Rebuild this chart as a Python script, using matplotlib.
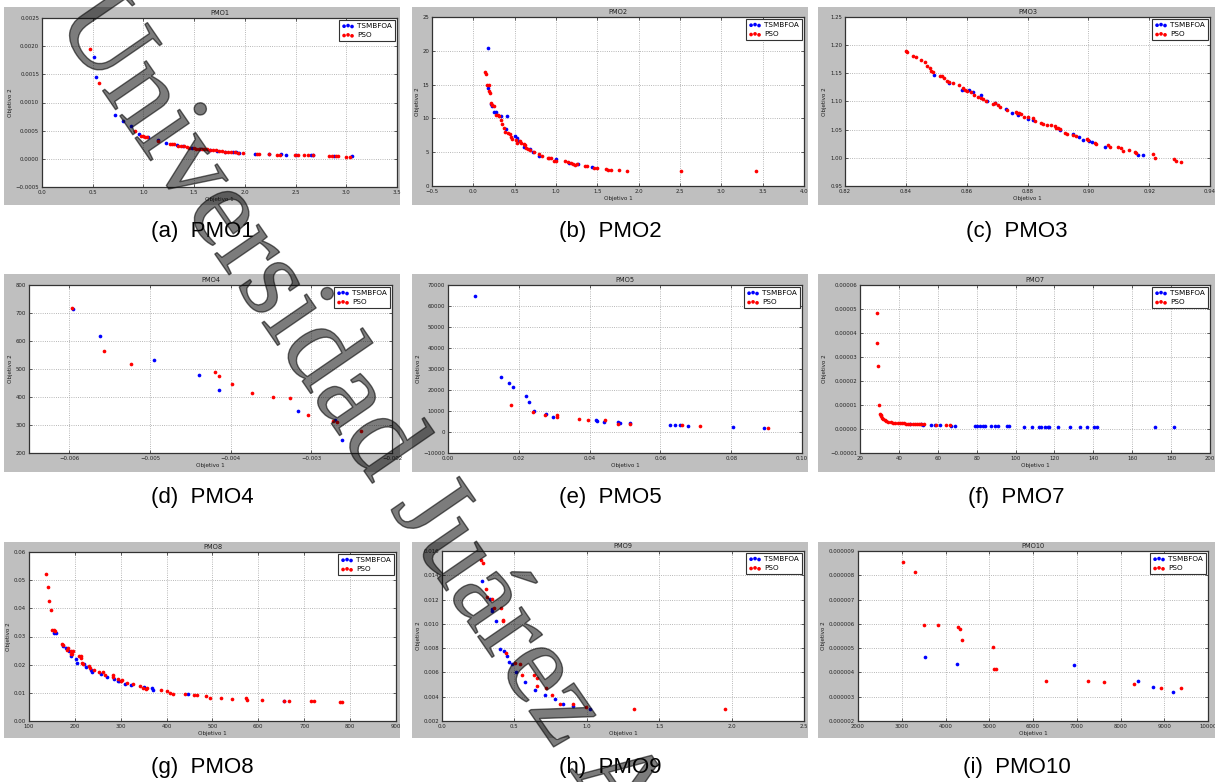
import matplotlib
matplotlib.use('Agg')
import matplotlib.pyplot as plt
import matplotlib.patheffects as pe
from matplotlib.patches import Rectangle
from matplotlib.ticker import FuncFormatter
import numpy as np

# ---- PMO1 ----
pmo1_ts_x = [0.515, 0.531, 0.715, 0.80, 0.876, 0.958, 1.05, 1.14, 1.22, 1.33, 1.39, 1.48, 1.56, 1.66,
             1.73, 1.80, 1.88, 1.91, 1.94, 2.10, 2.24, 2.36, 2.41, 2.50, 2.65, 2.67, 2.88, 3.06]
pmo1_ts_y = [0.00181, 0.00146, 0.00078, 0.00068, 0.00059, 0.00044, 0.00038, 0.00033, 0.00028, 0.00024,
             0.00022, 0.00019, 0.00017, 0.00015, 0.00014, 0.00013, 0.00012, 0.00012, 0.00011, 0.00009,
             0.00008, 0.00008, 0.00007, 0.00007, 0.00006, 0.00006, 0.00005, 0.00005]
pmo1_pso_x = [0.469, 0.564, 0.912, 0.98, 1.00, 1.02, 1.04, 1.14, 1.26, 1.28, 1.30, 1.34, 1.37, 1.40,
              1.43, 1.45, 1.50, 1.52, 1.55, 1.58, 1.60, 1.63, 1.66, 1.69, 1.72, 1.75, 1.77, 1.80, 1.83,
              1.86, 1.90, 1.93, 1.98, 2.12, 2.14, 2.24, 2.32, 2.35, 2.49, 2.52, 2.58, 2.62, 2.67, 2.83,
              2.86, 2.90, 2.92, 3.00, 3.04]
pmo1_pso_y = [0.00195, 0.00134, 0.00050, 0.00041, 0.00040, 0.00039, 0.00038, 0.00031, 0.00026, 0.00026,
              0.00026, 0.00023, 0.00022, 0.00022, 0.00021, 0.00020, 0.00019, 0.00018, 0.00018, 0.00018,
              0.00017, 0.00017, 0.00016, 0.00016, 0.00015, 0.00014, 0.00014, 0.00013, 0.00013, 0.00012,
              0.00012, 0.00011, 0.00011, 0.00009, 0.00009, 0.00008, 0.00007, 0.00007, 0.00007, 0.00007,
              0.00006, 0.00006, 0.00006, 0.00005, 0.00005, 0.00005, 0.00005, 0.00004, 0.00004]

# ---- PMO2 ----
pmo2_ts_x = [0.174, 0.18, 0.21, 0.23, 0.25, 0.27, 0.34, 0.41, 0.40, 0.50, 0.53, 0.55, 0.61, 0.68, 0.72,
             0.80, 1.00, 1.16, 1.27, 1.43]
pmo2_ts_y = [20.4, 14.5, 12.2, 11.8, 11.0, 10.9, 10.4, 10.3, 8.5, 7.4, 7.1, 6.7, 5.7, 5.4, 5.1, 4.4,
             4.0, 3.4, 3.3, 2.8]
pmo2_pso_x = [0.145, 0.157, 0.17, 0.186, 0.19, 0.20, 0.21, 0.22, 0.25, 0.27, 0.30, 0.31, 0.33, 0.35,
              0.37, 0.38, 0.42, 0.44, 0.46, 0.47, 0.52, 0.53, 0.56, 0.58, 0.61, 0.63, 0.64, 0.66, 0.69,
              0.73, 0.80, 0.83, 0.90, 0.92, 0.94, 0.98, 1.00, 1.11, 1.15, 1.18, 1.21, 1.23, 1.26, 1.35,
              1.37, 1.46, 1.50, 1.60, 1.63, 1.66, 1.76, 1.86, 2.51, 3.42]
pmo2_pso_y = [16.8, 16.6, 15.0, 15.0, 14.0, 13.7, 12.3, 12.0, 11.8, 10.5, 10.5, 10.3, 9.7, 9.1, 8.6,
              8.0, 7.8, 7.7, 7.3, 6.9, 6.8, 6.4, 6.6, 6.3, 6.2, 6.0, 5.6, 5.4, 5.3, 5.0, 4.7, 4.4, 4.2,
              4.2, 4.1, 3.7, 3.7, 3.7, 3.5, 3.4, 3.3, 3.1, 3.2, 3.0, 2.9, 2.7, 2.6, 2.5, 2.4, 2.4, 2.4,
              2.2, 2.2, 2.2]

# ---- PMO3 ----
pmo3_ts_x = [0.8493, 0.8541, 0.8584, 0.8609, 0.8620, 0.8647, 0.8668, 0.8694, 0.8729, 0.8749, 0.8768,
             0.8800, 0.8817, 0.8907, 0.8948, 0.8968, 0.8984, 0.9001, 0.9011, 0.9056, 0.9163, 0.9181]
pmo3_ts_y = [1.147, 1.132, 1.121, 1.120, 1.117, 1.112, 1.101, 1.098, 1.086, 1.080, 1.076, 1.069, 1.067,
             1.049, 1.042, 1.037, 1.031, 1.029, 1.028, 1.019, 1.005, 1.005]
pmo3_pso_x = [0.8402, 0.8403, 0.8425, 0.8433, 0.8449, 0.8463, 0.8471, 0.8480, 0.8483, 0.8488, 0.8512,
              0.8520, 0.8527, 0.8534, 0.8543, 0.8554, 0.8574, 0.8589, 0.8595, 0.8600, 0.8614, 0.8624,
              0.8638, 0.8646, 0.8654, 0.8663, 0.8685, 0.8694, 0.8704, 0.8709, 0.8731, 0.8761, 0.8766,
              0.8773, 0.8777, 0.8790, 0.8803, 0.8819, 0.8826, 0.8844, 0.8850, 0.8863, 0.8876, 0.8890,
              0.8894, 0.8901, 0.8907, 0.8923, 0.8929, 0.8951, 0.8958, 0.8995, 0.9000, 0.9022, 0.9025,
              0.9064, 0.9071, 0.9099, 0.9106, 0.9115, 0.9134, 0.9153, 0.9157, 0.9214, 0.9220, 0.9283,
              0.9287, 0.9304]
pmo3_pso_y = [1.190, 1.188, 1.181, 1.179, 1.174, 1.170, 1.163, 1.159, 1.155, 1.153, 1.146, 1.145, 1.141,
              1.136, 1.134, 1.132, 1.129, 1.124, 1.121, 1.118, 1.116, 1.111, 1.108, 1.107, 1.104, 1.101,
              1.096, 1.097, 1.094, 1.091, 1.085, 1.081, 1.079, 1.080, 1.078, 1.073, 1.072, 1.070, 1.066,
              1.061, 1.060, 1.058, 1.058, 1.057, 1.053, 1.053, 1.051, 1.044, 1.042, 1.040, 1.038, 1.033,
              1.032, 1.027, 1.025, 1.022, 1.020, 1.019, 1.018, 1.013, 1.014, 1.011, 1.009, 1.007, 0.999,
              0.998, 0.995, 0.992]

# ---- PMO4 ----
pmo4_ts_x = [-0.00595, -0.00562, -0.00495, -0.00439, -0.00414, -0.00316, -0.00271, -0.00262]
pmo4_ts_y = [714, 617, 533, 480, 424, 349, 317, 247]
pmo4_pso_x = [-0.00597, -0.00557, -0.00523, -0.00419, -0.00414, -0.00398, -0.00373, -0.00348, -0.00327,
              -0.00304, -0.00273, -0.00268, -0.00238]
pmo4_pso_y = [718, 564, 517, 488, 476, 447, 415, 400, 397, 336, 314, 309, 277]

# ---- PMO5 ----
pmo5_ts_x = [0.0075, 0.0151, 0.0172, 0.0183, 0.0219, 0.0228, 0.0243, 0.0277, 0.0297, 0.0418, 0.0420,
             0.0441, 0.0480, 0.0486, 0.0515, 0.0626, 0.0641, 0.0656, 0.0679, 0.0806, 0.0894]
pmo5_ts_y = [64600, 26100, 23250, 21200, 17250, 14250, 9800, 8550, 7100, 5550, 5200, 4750, 4750, 4100,
             4100, 3450, 3300, 3150, 2850, 2500, 2050]
pmo5_pso_x = [0.0177, 0.0241, 0.0273, 0.0307, 0.0307, 0.0369, 0.0395, 0.0443, 0.0481, 0.0515, 0.0662,
              0.0713, 0.0905]
pmo5_pso_y = [12950, 9650, 8050, 8050, 7250, 6150, 5550, 5550, 3950, 3800, 3300, 2850, 2050]

# ---- PMO7 ----
pmo7_ts_x = [45.5, 51.5, 52.3, 56.3, 58.5, 61.0, 66.8, 68.9, 79.0, 80.3, 81.5, 83.0, 84.3, 87.3, 89.2,
             91.0, 95.5, 96.5, 104.2, 108.5, 112.0, 113.0, 115.3, 116.5, 117.3, 122.0, 128.0, 133.0,
             136.7, 140.5, 141.8, 171.5, 181.5]
pmo7_ts_y = [2.2e-6, 1.9e-6, 1.85e-6, 1.65e-6, 1.6e-6, 1.55e-6, 1.45e-6, 1.42e-6, 1.37e-6, 1.33e-6,
             1.3e-6, 1.28e-6, 1.25e-6, 1.2e-6, 1.18e-6, 1.15e-6, 1.1e-6, 1.08e-6, 1.02e-6, 1.0e-6,
             0.98e-6, 0.97e-6, 0.95e-6, 0.94e-6, 0.93e-6, 0.9e-6, 0.87e-6, 0.85e-6, 0.83e-6, 0.8e-6,
             0.78e-6, 0.7e-6, 0.68e-6]
pmo7_pso_x = [28.7, 28.7, 29.1, 29.8, 30.3, 30.6, 31.0, 31.5, 32.0, 32.7, 33.5, 34.6, 35.8, 37.1, 38.2,
              39.3, 40.4, 41.5, 42.6, 43.7, 44.8, 45.9, 47.0, 48.1, 49.2, 50.3, 51.4, 52.8, 59.2, 64.0,
              66.4]
pmo7_pso_y = [48.2e-6, 35.7e-6, 26.3e-6, 10.2e-6, 6.4e-6, 5.8e-6, 5.3e-6, 4.7e-6, 4.1e-6, 3.6e-6,
              3.2e-6, 2.9e-6, 2.8e-6, 2.6e-6, 2.5e-6, 2.45e-6, 2.4e-6, 2.35e-6, 2.3e-6, 2.25e-6, 2.2e-6,
              2.15e-6, 2.1e-6, 2.05e-6, 2.0e-6, 2.0e-6, 1.95e-6, 1.9e-6, 1.7e-6, 1.6e-6, 1.55e-6]

# ---- PMO8 ----
pmo8_ts_x = [154.5, 159.6, 173.5, 181.5, 187, 191.6, 202.5, 205.5, 220, 224, 236, 238, 256.4, 271,
             285.5, 294, 296, 309.5, 322, 350, 367.6, 370.5, 447, 655]
pmo8_ts_y = [0.0312, 0.0311, 0.0266, 0.0259, 0.0249, 0.0231, 0.0221, 0.0207, 0.0201, 0.0192, 0.0180,
             0.0174, 0.0168, 0.0155, 0.0148, 0.0142, 0.0142, 0.0131, 0.0129, 0.0120, 0.0117, 0.0109,
             0.0096, 0.0070]
pmo8_pso_x = [136.4, 141.5, 142.9, 148.7, 150.2, 153.8, 157.1, 172, 174, 185, 183.6, 191, 195, 191,
              194.5, 209, 213.5, 214, 215.6, 218, 230, 233.8, 241, 253.5, 260.7, 265, 283, 283, 293.5,
              303, 300, 313, 326, 342, 348.7, 356.7, 354, 387, 401.5, 407.3, 414, 440, 460.7, 465.8,
              485.5, 494, 519, 543, 574, 575.6, 607.6, 656, 667, 714.5, 721, 778.5, 783]
pmo8_pso_y = [0.0523, 0.0476, 0.0425, 0.0395, 0.0324, 0.0322, 0.0318, 0.0275, 0.0269, 0.0260, 0.0253,
              0.0247, 0.0247, 0.0239, 0.0237, 0.0230, 0.0230, 0.0225, 0.0207, 0.0204, 0.0194, 0.0188,
              0.0182, 0.0173, 0.0174, 0.0164, 0.0163, 0.0156, 0.0148, 0.0144, 0.0142, 0.0135, 0.0131,
              0.0123, 0.0118, 0.0118, 0.0114, 0.0109, 0.0107, 0.0101, 0.0097, 0.0095, 0.0092, 0.0092,
              0.0089, 0.0083, 0.0082, 0.0079, 0.0080, 0.0076, 0.0076, 0.0072, 0.0071, 0.0071, 0.0071,
              0.0069, 0.0066]

# ---- PMO9 ----
pmo9_ts_x = [0.273, 0.331, 0.342, 0.345, 0.370, 0.402, 0.430, 0.448, 0.460, 0.485, 0.508, 0.572, 0.641,
             0.708, 0.777, 0.834, 0.903, 1.025]
pmo9_ts_y = [0.01353, 0.01207, 0.01125, 0.01103, 0.01024, 0.00793, 0.00774, 0.00735, 0.00686, 0.00667,
             0.00601, 0.00521, 0.00458, 0.00414, 0.00384, 0.00343, 0.00321, 0.00302]
pmo9_pso_x = [0.267, 0.283, 0.303, 0.312, 0.345, 0.358, 0.409, 0.418, 0.418, 0.439, 0.506, 0.542, 0.551,
              0.636, 0.657, 0.657, 0.717, 0.763, 0.813, 0.905, 0.997, 1.328, 1.953]
pmo9_pso_y = [0.01523, 0.01498, 0.01284, 0.01218, 0.01207, 0.01133, 0.01133, 0.01035, 0.01024, 0.00763,
              0.00678, 0.00672, 0.00576, 0.00576, 0.00554, 0.00486, 0.00475, 0.00414, 0.00343, 0.00337,
              0.00315, 0.00302, 0.00296]

# ---- PMO10 ----
pmo10_ts_x = [3534, 4267, 6947, 8405, 8740, 9206]
pmo10_ts_y = [4.64e-6, 4.35e-6, 4.31e-6, 3.65e-6, 3.40e-6, 3.19e-6]
pmo10_pso_x = [3023, 3298, 3504, 3824, 4282, 4336, 4366, 5092, 5115, 5145, 6298, 7267, 7626, 8305, 8931,
               9374]
pmo10_pso_y = [8.56e-6, 8.15e-6, 5.95e-6, 5.95e-6, 5.87e-6, 5.80e-6, 5.35e-6, 5.06e-6, 4.16e-6, 4.16e-6,
               3.65e-6, 3.65e-6, 3.61e-6, 3.53e-6, 3.35e-6, 3.35e-6]

W, H = 1215, 782
fig = plt.figure(figsize=(W / 100, H / 100), dpi=100, facecolor='white')


def fmt(pattern):
    return FuncFormatter(lambda v, p: (pattern % v).replace('-', '\u2212'))


# (letter, name, gray box, axes box, data, x range/step, y range/step, formats)
panels = [
    ('a', 'PMO1', (4, 7, 400, 205), (42, 18, 397, 187),
     (pmo1_ts_x, pmo1_ts_y, pmo1_pso_x, pmo1_pso_y),
     (0, 3.5, 0.5), (-0.0005, 0.0025, 0.0005), '%.1f', '%.4f'),
    ('b', 'PMO2', (412, 7, 808, 205), (432, 17, 804, 186),
     (pmo2_ts_x, pmo2_ts_y, pmo2_pso_x, pmo2_pso_y),
     (-0.5, 4.0, 0.5), (0, 25, 5), '%.1f', '%d'),
    ('c', 'PMO3', (818, 7, 1215, 205), (845, 17, 1210, 186),
     (pmo3_ts_x, pmo3_ts_y, pmo3_pso_x, pmo3_pso_y),
     (0.82, 0.94, 0.02), (0.95, 1.25, 0.05), '%.2f', '%.2f'),
    ('d', 'PMO4', (4, 274, 400, 472), (29, 285, 392, 453),
     (pmo4_ts_x, pmo4_ts_y, pmo4_pso_x, pmo4_pso_y),
     (-0.0065, -0.002, 0.001), (200, 800, 100), '%.3f', '%d'),
    ('e', 'PMO5', (412, 274, 808, 472), (448, 285, 802, 453),
     (pmo5_ts_x, pmo5_ts_y, pmo5_pso_x, pmo5_pso_y),
     (0, 0.10, 0.02), (-10000, 70000, 10000), '%.2f', '%d'),
    ('f', 'PMO7', (818, 274, 1215, 472), (860, 285, 1210, 453),
     (pmo7_ts_x, pmo7_ts_y, pmo7_pso_x, pmo7_pso_y),
     (20, 200, 20), (-0.00001, 0.00006, 0.00001), '%d', '%.5f'),
    ('g', 'PMO8', (4, 542, 400, 738), (29, 552, 396, 721),
     (pmo8_ts_x, pmo8_ts_y, pmo8_pso_x, pmo8_pso_y),
     (100, 900, 100), (0, 0.06, 0.01), '%d', '%.2f'),
    ('h', 'PMO9', (412, 542, 808, 738), (442, 551, 804, 721),
     (pmo9_ts_x, pmo9_ts_y, pmo9_pso_x, pmo9_pso_y),
     (0, 2.5, 0.5), (0.002, 0.016, 0.002), '%.1f', '%.3f'),
    ('i', 'PMO10', (818, 542, 1215, 738), (858, 551, 1208, 721),
     (pmo10_ts_x, pmo10_ts_y, pmo10_pso_x, pmo10_pso_y),
     (2000, 10000, 1000), (0.000002, 0.000009, 0.000001), '%d', '%.6f'),
]

caption_y = [232, 497, 768]

for k, (letter, name, gbox, abox, data, xr, yr, xf, yf) in enumerate(panels):
    gl, gt, gr, gb = gbox
    # gray figure background behind each plot
    fig.patches.append(Rectangle((gl / W, 1 - gb / H), (gr - gl) / W, (gb - gt) / H,
                                 transform=fig.transFigure, facecolor='#bfbfbf',
                                 edgecolor='none', zorder=-5))
    l, t, r, b = abox
    ax = fig.add_axes([l / W, 1 - b / H, (r - l) / W, (b - t) / H])
    ax.set_zorder(1)
    tx, ty, px, py = data
    ax.scatter(tx, ty, s=7, c='blue', linewidths=0, label='TSMBFOA', zorder=3)
    ax.scatter(px, py, s=7, c='red', linewidths=0, label='PSO', zorder=3)

    xt = np.round(np.arange(xr[0], xr[1] + xr[2] / 2, xr[2]), 10)
    if letter == 'd':
        xt = np.round(np.arange(-0.006, -0.002 + 0.0005, 0.001), 10)
    yt = np.round(np.arange(yr[0], yr[1] + yr[2] / 2, yr[2]), 10)
    ax.set_xlim(xr[0], xr[1])
    ax.set_ylim(yr[0], yr[1])
    ax.set_xticks(xt)
    ax.set_yticks(yt)
    ax.xaxis.set_major_formatter(fmt(xf))
    ax.yaxis.set_major_formatter(fmt(yf))
    ax.tick_params(direction='in', length=2, width=0.5, labelsize=3.9, pad=2,
                   top=True, right=True, colors='#222222')
    ax.grid(True, color='#a0a0a0', linestyle=':', linewidth=0.6)
    ax.set_axisbelow(True)
    for s in ax.spines.values():
        s.set_color('#333333')
        s.set_linewidth(0.9)
    ax.set_title(name, fontsize=4.8, pad=2, color='#222222')
    ax.set_xlabel('Objetivo 1', fontsize=4.1, labelpad=1.5, color='#222222')
    ax.set_ylabel('Objetivo 2', fontsize=4.1, labelpad=2, color='#222222')
    leg = ax.legend(loc='upper right', fontsize=5.2, scatterpoints=3, fancybox=False,
                    framealpha=1, borderaxespad=0.3, handletextpad=0.4, handlelength=1.7,
                    borderpad=0.4, labelspacing=0.45)
    leg.get_frame().set_edgecolor('#333333')
    leg.get_frame().set_linewidth(0.8)

    fig.text(((gl + gr) / 2) / W, 1 - caption_y[k // 3] / H, '(%s)  %s' % (letter, name),
             ha='center', va='center', fontsize=16, family='Liberation Sans', color='black')

# watermark across the page
wm = fig.text(54 / W, 1 - 20 / H, 'Universidad Juárez Autónoma', rotation=-55.5,
              rotation_mode='anchor', ha='left', va='baseline', fontsize=83,
              family='Liberation Serif', color=(0, 0, 0, 0.3),
              path_effects=[pe.withStroke(linewidth=1.0, foreground=(0.1, 0.1, 0.1, 0.65))])
wm.set_zorder(10)

fig.savefig('out.png', dpi=100, facecolor='white')
